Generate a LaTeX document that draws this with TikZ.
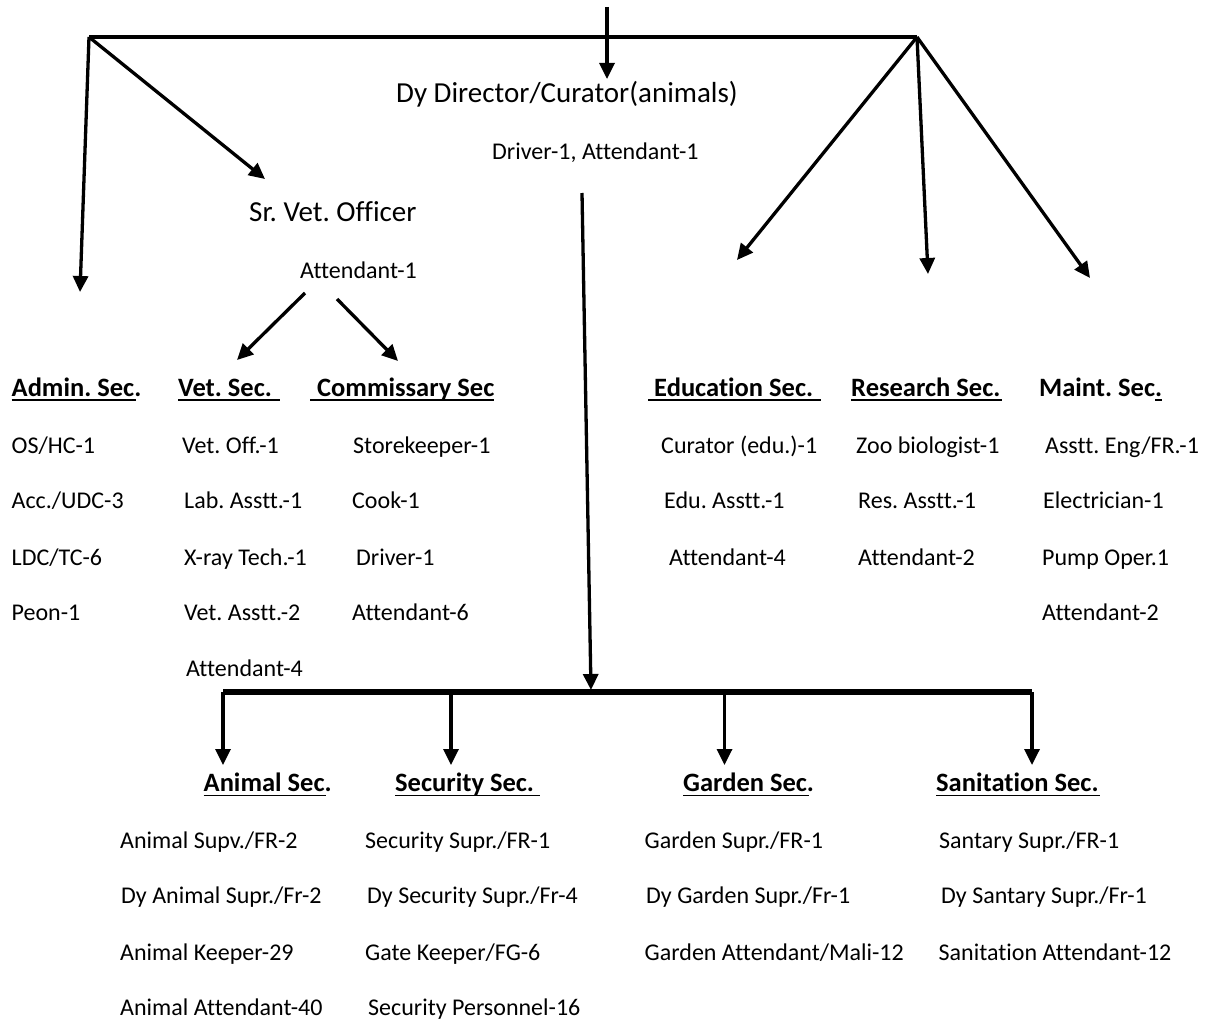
\documentclass[tikz,border=0pt]{standalone}
\usepackage{fontspec}
\setmainfont{Carlito}[Ligatures=NoCommon]
\usetikzlibrary{arrows.meta}
\frenchspacing
\begin{document}
\begin{tikzpicture}[x=1pt,y=-1pt,
  txt/.style={anchor=base west, inner sep=0pt, font=\fontsize{24}{28}\selectfont},
  hd/.style={anchor=base west, inner sep=0pt, font=\fontsize{26.5}{30}\selectfont\bfseries},
  big/.style={anchor=base west, inner sep=0pt, font=\fontsize{29}{34}\selectfont},
  arr/.style={line width=3.3pt, -{Triangle[length=16pt,width=15pt]}},
  bar/.style={line width=4pt},
  thickbar/.style={line width=6pt},
  ul/.style={line width=1.6pt}]
\useasboundingbox (0,0) rectangle (1206,1019);

% ---------- coordinates of branch points and free arrow ends
\coordinate (top)   at (607,7);
\coordinate (topT)  at (607,79);
\coordinate (barL)  at (89,37);
\coordinate (barR)  at (917,37);
\coordinate (tAdm)  at (80,292);
\coordinate (tSrv)  at (265,179);
\coordinate (tEdu)  at (737,260);
\coordinate (tRes)  at (928,274);
\coordinate (tMnt)  at (1090,278);
\coordinate (dStart) at (582,193);
\coordinate (bJoin) at (591,690);
\coordinate (bL)    at (223,692);
\coordinate (bR)    at (1032,692);
\coordinate (bA)    at (223,692);
\coordinate (bS)    at (451,692);
\coordinate (bG)    at (724.5,692);
\coordinate (bN)    at (1032,692);
\coordinate (tA)    at (223,765);
\coordinate (tS)    at (451,765);
\coordinate (tG)    at (724.5,765);
\coordinate (tN)    at (1032,765);
\coordinate (sv1)   at (305,293);
\coordinate (sv2)   at (337,299);
\coordinate (tVet)  at (237,360);
\coordinate (tCom)  at (398,361);

% ---------- top level
\node[big] (dyd) at (396,102.5) {Dy Director/Curator(animals)};
\node[txt] (dyda) at (492,159.5) {Driver-1, Attendant-1};
\node[big] (srv) at (249,221) {Sr. Vet. Officer};
\node[txt] (srva) at (300,278) {Attendant-1};

% ---------- middle sections headers
\node[hd] (hAdm) at (11.5,396) {Admin. Sec.};
\node[hd] (hVet) at (178,396) {Vet. Sec.};
\node[hd] (hCom) at (317,396) {Commissary Sec};
\node[hd] (hEdu) at (654,396) {Education Sec.};
\node[hd] (hRes) at (851,396) {Research Sec.};
\node[hd] (hMnt) at (1039,396) {Maint. Sec.};

\draw[ul] (11.5,400) -- (136,400);
\draw[ul] (178,400) -- (280,400);
\draw[ul] (310,400) -- (494,400);
\draw[ul] (648,400) -- (821,400);
\draw[ul] (851,400) -- (1002,400);
\draw[ul] (1155,400) -- (1162,400);

% Admin items
\node[txt] (a1) at (11.5,453) {OS/HC-1};
\node[txt] (a2) at (11.5,508.5) {Acc./UDC-3};
\node[txt] (a3) at (11.5,565) {LDC/TC-6};
\node[txt] (a4) at (11.5,620) {Peon-1};
% Vet items
\node[txt] (v1) at (182,453) {Vet. Off.-1};
\node[txt] (v2) at (184,508.5) {Lab. Asstt.-1};
\node[txt] (v3) at (184,565) {X-ray Tech.-1};
\node[txt] (v4) at (184,620) {Vet. Asstt.-2};
\node[txt] (v5) at (186,676) {Attendant-4};
% Commissary items
\node[txt] (c1) at (353,453) {Storekeeper-1};
\node[txt] (c2) at (352,508.5) {Cook-1};
\node[txt] (c3) at (356,565) {Driver-1};
\node[txt] (c4) at (352,620) {Attendant-6};
% Education items
\node[txt] (e1) at (661,453) {Curator (edu.)-1};
\node[txt] (e2) at (664,508.5) {Edu. Asstt.-1};
\node[txt] (e3) at (669,565) {Attendant-4};
% Research items
\node[txt] (r1) at (856,453) {Zoo biologist-1};
\node[txt] (r2) at (858,508.5) {Res. Asstt.-1};
\node[txt] (r3) at (858,565) {Attendant-2};
% Maintenance items
\node[txt] (m1) at (1045,453) {Asstt. Eng/FR.-1};
\node[txt] (m2) at (1043,508.5) {Electrician-1};
\node[txt] (m3) at (1042,565) {Pump Oper.1};
\node[txt] (m4) at (1042,620) {Attendant-2};

% ---------- bottom sections
\node[hd] (hAni) at (203.5,791.5) {Animal Sec.};
\node[hd] (hSec) at (395,791.5) {Security Sec.};
\node[hd] (hGar) at (683,791.5) {Garden Sec.};
\node[hd] (hSan) at (936,791.5) {Sanitation Sec.};
\draw[ul] (203.5,795.5) -- (326,795.5);
\draw[ul] (395,795.5) -- (540,795.5);
\draw[ul] (683,795.5) -- (809,795.5);
\draw[ul] (936,795.5) -- (1100,795.5);

\node[txt] (an1) at (120,848) {Animal Supv./FR-2};
\node[txt] (an2) at (121,903.5) {Dy Animal Supr./Fr-2};
\node[txt] (an3) at (120,960) {Animal Keeper-29};
\node[txt] (an4) at (120,1015) {Animal Attendant-40};

\node[txt] (se1) at (365,848) {Security Supr./FR-1};
\node[txt] (se2) at (367,903.5) {Dy Security Supr./Fr-4};
\node[txt] (se3) at (365,960) {Gate Keeper/FG-6};
\node[txt] (se4) at (368,1015) {Security Personnel-16};

\node[txt] (g1) at (644.5,848) {Garden Supr./FR-1};
\node[txt] (g2) at (646,903.5) {Dy Garden Supr./Fr-1};
\node[txt] (g3) at (644.5,960) {Garden Attendant/Mali-12};

\node[txt] (s1) at (939,848) {Santary Supr./FR-1};
\node[txt] (s2) at (941,903.5) {Dy Santary Supr./Fr-1};
\node[txt] (s3) at (938.5,960) {Sanitation Attendant-12};

% ---------- connectors
\draw[bar] (barL) -- (barR);
\draw[arr] (top) -- (topT);
\draw[arr] (barL) -- (tAdm);
\draw[arr] (barL) -- (tSrv);
\draw[arr] (barR) -- (tEdu);
\draw[arr] (barR) -- (tRes);
\draw[arr] (barR) -- (tMnt);
\draw[arr] (sv1) -- (tVet);
\draw[arr] (sv2) -- (tCom);
\draw[arr] (dStart) -- (bJoin);
\draw[thickbar] (bL) -- (bR);
\draw[arr] (bA) -- (tA);
\draw[arr] (bS) -- (tS);
\draw[arr] (bG) -- (tG);
\draw[arr] (bN) -- (tN);
\end{tikzpicture}
\end{document}
